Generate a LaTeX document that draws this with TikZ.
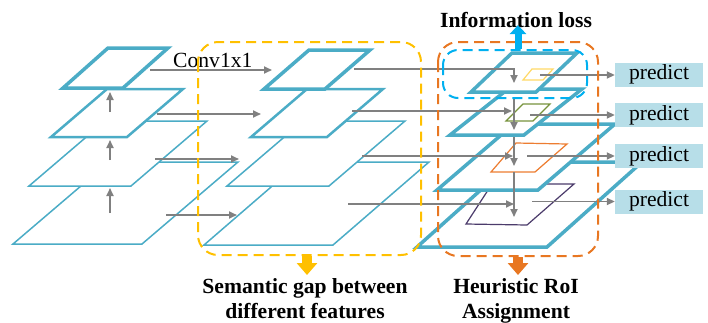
\documentclass[tikz,border=0pt]{standalone}
\usepackage{fontspec}
\setmainfont{Liberation Serif}
\usetikzlibrary{arrows.meta}
\definecolor{layerblue}{HTML}{4BACC6}
\definecolor{arrowgray}{HTML}{808080}
\definecolor{predfill}{HTML}{B7DEE8}
\definecolor{ygold}{HTML}{FFC000}
\definecolor{dorange}{HTML}{E87722}
\definecolor{dblue}{HTML}{00B0F0}
\definecolor{sqyellow}{HTML}{FFD966}
\definecolor{sqgreen}{HTML}{77933C}
\definecolor{sqorange}{HTML}{ED7D31}
\definecolor{sqpurple}{HTML}{4B3B6B}
\newcommand\pyrlayer[6]{\draw[layer,#6] ({#3+#5},#1) -- ({#4+#5},#1) -- (#4,#2) -- (#3,#2) -- cycle;}
\begin{document}
\begin{tikzpicture}[x=1pt,y=-1pt,
  layer/.style={draw=layerblue,fill=white},
  thinl/.style={line width=1.5pt},
  medl/.style={line width=2.5pt},
  thickl/.style={line width=3.5pt},
  roi/.style={line width=1.2pt},
  garrow/.style={draw=arrowgray,line width=1.8pt,-{Triangle[length=8pt,width=7pt]}},
  gline/.style={draw=arrowgray,line width=1.8pt},
  dbox/.style={line width=2pt,dash pattern=on 10pt off 6pt,rounded corners=20pt},
  bigarrow/.style={line width=10pt,-{Triangle[length=12pt,width=20pt]}},
  txt/.style={font=\fontsize{21.6}{25}\selectfont,inner sep=0pt},
  btxt/.style={font=\fontsize{21.6}{25}\selectfont\bfseries,inner sep=0pt,align=center},
  predbox/.style={fill=predfill,minimum width=88pt,minimum height=24pt,inner sep=0pt,font=\fontsize{21.6}{25}\selectfont}
]
\useasboundingbox (0,0) rectangle (708,322);
% left pyramid
\pyrlayer{162}{244}{13}{142}{96}{thinl}
\pyrlayer{121}{186}{29}{131}{76}{thinl}
\pyrlayer{89}{137}{51}{127}{56}{medl}
\pyrlayer{48}{88}{63}{123}{45}{thickl}
% middle pyramid
\pyrlayer{162}{245}{204}{333}{96}{thinl}
\pyrlayer{121}{186}{227}{329}{76}{thinl}
\pyrlayer{89}{137}{251}{327}{56}{medl}
\pyrlayer{50}{89}{264}{325}{45}{thickl}
% right pyramid
\pyrlayer{162}{247}{417}{547}{95}{thickl}
\draw[sqpurple,roi] (492,184) -- (574,184) -- (527,225) -- (466,224) -- cycle;
\pyrlayer{124}{190}{437}{538}{77}{thickl}
\draw[sqorange,roi] (516,143) -- (567,144) -- (535,172) -- (491,172) -- cycle;
\pyrlayer{89}{135}{450}{524}{58}{thickl}
\draw[sqgreen,roi] (523,104) -- (550,104) -- (533,121) -- (506,121) -- cycle;
\pyrlayer{53}{92}{471}{536}{41}{thickl}
\draw[sqyellow,roi] (532,69) -- (553,69) -- (543,80) -- (523,80) -- cycle;
% predict boxes
\node[predbox] (p1) at (659,74.5) {predict};
\node[predbox] (p2) at (659,115) {predict};
\node[predbox] (p3) at (659,156) {predict};
\node[predbox] (p4) at (659,201.5) {predict};
% coordinates
\coordinate (lu1s) at (110,112); \coordinate (lu1e) at (110,92);
\coordinate (lu2s) at (110,160); \coordinate (lu2e) at (110,140);
\coordinate (lu3s) at (110,213); \coordinate (lu3e) at (110,188);
\coordinate (a1s) at (150,70); \coordinate (a1e) at (272,70);
\coordinate (a2s) at (157,114); \coordinate (a2e) at (261,114);
\coordinate (a3s) at (155,159); \coordinate (a3e) at (239,159);
\coordinate (a4s) at (166,215); \coordinate (a4e) at (237,215);
\coordinate (h1s) at (354,69); \coordinate (h1c) at (514,69); \coordinate (h1e) at (514,83);
\coordinate (h2s) at (352,111); \coordinate (h2e) at (512,111);
\coordinate (h3s) at (362,156); \coordinate (h3e) at (513,156);
\coordinate (h4s) at (348,204); \coordinate (h4e) at (514,204);
\coordinate (v1s) at (514,97); \coordinate (v1e) at (514,130);
\coordinate (v2s) at (514,137); \coordinate (v2e) at (514,166);
\coordinate (v3s) at (514,172); \coordinate (v3e) at (514,217);
\coordinate (o1) at (540,75); \coordinate (o2) at (530,115);
\coordinate (o3) at (527,156); \coordinate (o4) at (532,201.5);
% gray arrows
\draw[garrow] (lu1s) -- (lu1e);
\draw[garrow] (lu2s) -- (lu2e);
\draw[garrow] (lu3s) -- (lu3e);
\draw[garrow] (a1s) -- (a1e);
\draw[garrow] (a2s) -- (a2e);
\draw[garrow] (a3s) -- (a3e);
\draw[garrow] (a4s) -- (a4e);
\draw[garrow] (h1s) -- (h1c) -- (h1e);
\draw[garrow] (h2s) -- (h2e);
\draw[garrow] (h3s) -- (h3e);
\draw[garrow] (h4s) -- (h4e);
\draw[garrow] (v1s) -- (v1e);
\draw[garrow] (v2s) -- (v2e);
\draw[garrow] (v3s) -- (v3e);
\draw[garrow] (o1) -- (o1 -| p1.west);
\draw[garrow] (o2) -- (o2 -| p2.west);
\draw[garrow] (o3) -- (o3 -| p3.west);
\draw[garrow] (o4) -- (o4 -| p4.west);
\node[txt,anchor=base west] (conv) at (173,67) {Conv1x1};
% dashed boxes
\draw[dbox,ygold] (198,42) rectangle (421,255);
\draw[dbox,dorange] (438,42) rectangle (598,256);
\draw[dbox,dblue,rounded corners=15pt] (443,50) rectangle (587,98);
% big arrows
\coordinate (ya1) at (307,256); \coordinate (ya2) at (307,275);
\coordinate (oa1) at (518,257); \coordinate (oa2) at (518,275);
\coordinate (ba1) at (518,49); \coordinate (ba2) at (518,25);
\draw[bigarrow,ygold] (ya1) -- (ya2);
\draw[bigarrow,dorange] (oa1) -- (oa2);
\draw[dblue,line width=7pt,-{Triangle[length=9pt,width=16pt]}] (ba1) -- (ba2);
% labels
\node[btxt,anchor=base] (info) at (516,27) {Information loss};
\node[btxt,anchor=north] (sem) at (305,278) {Semantic gap between\\different features};
\node[btxt,anchor=north] (heur) at (516,278) {Heuristic RoI\\Assignment};
\end{tikzpicture}
\end{document}
